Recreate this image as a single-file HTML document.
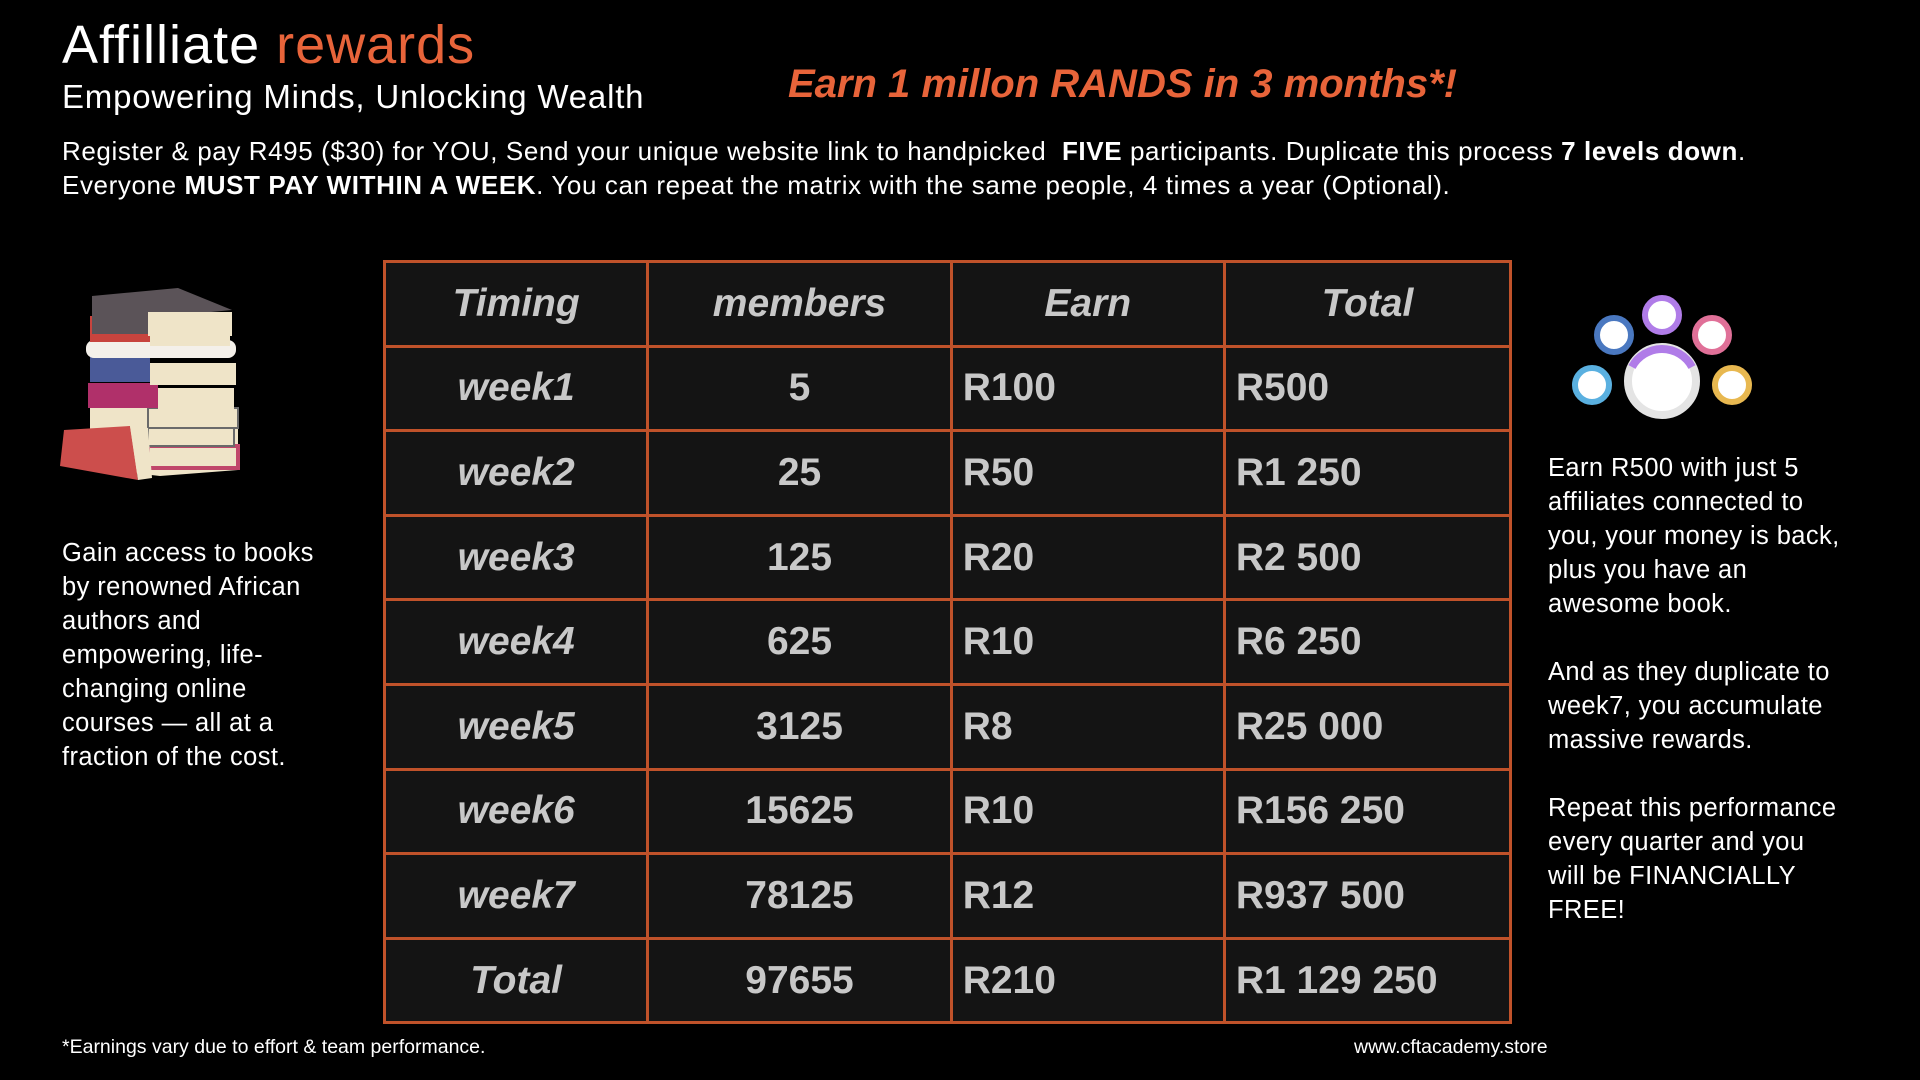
<!DOCTYPE html>
<html><head><meta charset="utf-8"><style>
body{margin:0;width:1920px;height:1080px;background:#000;overflow:hidden;position:relative;font-family:"Liberation Sans",sans-serif;color:#fff}
.a{position:absolute;white-space:nowrap}
table{position:absolute;left:383px;top:260px;border-collapse:collapse;width:1129px}
td{border:3.5px solid #c0522a;background:#141414;color:#c8c8c8;font-weight:bold;font-size:39px;height:81.6px;padding:0;text-align:center}
td.l{text-align:left;padding-left:10px}
td.i,tr.h td{font-style:italic}
.side{position:absolute;font-size:25.5px;line-height:34px;letter-spacing:0.4px}
</style></head><body>
<div class="a" style="left:62px;top:14px;font-size:54px;letter-spacing:1px">Affilliate <span style="color:#e8643a">rewards</span></div>
<div class="a" style="left:62px;top:78px;font-size:33px;letter-spacing:0.8px">Empowering Minds, Unlocking Wealth</div>
<div class="a" style="left:788px;top:62px;font-size:40px;font-weight:bold;font-style:italic;color:#e8643a">Earn 1 millon RANDS in 3 months*!</div>
<div class="a" style="left:62px;top:134px;font-size:26px;line-height:34px;letter-spacing:0.6px">Register &amp; pay R495 ($30) for YOU, Send your unique website link to handpicked&nbsp; <b>FIVE</b> participants. Duplicate this process <b>7 levels down</b>.<br>Everyone <b>MUST PAY WITHIN A WEEK</b>. You can repeat the matrix with the same people, 4 times a year (Optional).</div>
<table>
<colgroup><col style="width:264px"><col style="width:304px"><col style="width:274px"><col style="width:287px"></colgroup>
<tr class="h"><td>Timing</td><td>members</td><td>Earn</td><td>Total</td></tr>
<tr><td class="i">week1</td><td>5</td><td class="l">R100</td><td class="l">R500</td></tr>
<tr><td class="i">week2</td><td>25</td><td class="l">R50</td><td class="l">R1 250</td></tr>
<tr><td class="i">week3</td><td>125</td><td class="l">R20</td><td class="l">R2 500</td></tr>
<tr><td class="i">week4</td><td>625</td><td class="l">R10</td><td class="l">R6 250</td></tr>
<tr><td class="i">week5</td><td>3125</td><td class="l">R8</td><td class="l">R25 000</td></tr>
<tr><td class="i">week6</td><td>15625</td><td class="l">R10</td><td class="l">R156 250</td></tr>
<tr><td class="i">week7</td><td>78125</td><td class="l">R12</td><td class="l">R937 500</td></tr>
<tr><td class="i">Total</td><td>97655</td><td class="l">R210</td><td class="l">R1 129 250</td></tr>
</table>
<svg class="a" style="left:60px;top:288px" width="182" height="195" viewBox="0 0 182 195">
<polygon points="30,120 100,118 178,125 178,182 100,188 30,180" fill="#efe4c8"/>
<rect x="88" y="158" width="90" height="22" fill="#efe4c8" stroke="#c0466a" stroke-width="4"/>
<rect x="88" y="140" width="86" height="18" fill="#efe4c8" stroke="#6a6a6a" stroke-width="2"/>
<rect x="88" y="120" width="90" height="20" fill="#efe4c8" stroke="#6a6a6a" stroke-width="2"/>
<rect x="28" y="95" width="70" height="25" fill="#b0306a"/><rect x="98" y="100" width="76" height="22" fill="#efe4c8"/>
<rect x="30" y="68" width="60" height="26" fill="#4a5a98"/><rect x="90" y="75" width="86" height="22" fill="#efe4c8"/>
<rect x="26" y="52" width="150" height="18" rx="8" fill="#f4f0ea"/>
<rect x="30" y="28" width="60" height="26" fill="#c8443e"/><rect x="90" y="40" width="80" height="18" fill="#efe4c8"/>
<polygon points="32,8 118,0 172,22 88,30" fill="#5b5358"/><rect x="32" y="8" width="56" height="38" fill="#5b5358"/><rect x="88" y="24" width="84" height="24" fill="#efe4c8"/>
<polygon points="4,142 70,138 78,192 0,178" fill="#cc4e4c"/>
<polygon points="70,138 88,140 92,190 78,192" fill="#efe4c8"/>
</svg>
<svg class="a" style="left:1566px;top:285px" width="192" height="142" viewBox="0 0 192 142">
<g fill="#fff" stroke-width="6">
<circle cx="96" cy="96" r="34" stroke="#e4e4e4" stroke-width="8"/>
<circle cx="96" cy="30" r="17" stroke="#b07ce8"/>
<circle cx="48" cy="50" r="17" stroke="#4a78c0"/>
<circle cx="146" cy="50" r="17" stroke="#e07098"/>
<circle cx="26" cy="100" r="17" stroke="#5ab0e0"/>
<circle cx="166" cy="100" r="17" stroke="#e8b850"/>
</g>
<path d="M66 82 A34 34 0 0 1 126 82" fill="none" stroke="#b07ce8" stroke-width="8"/>
</svg>
<div class="side" style="left:62px;top:536px">Gain access to books<br>by renowned African<br>authors and<br>empowering, life-<br>changing online<br>courses — all at a<br>fraction of the cost.</div>
<div class="side" style="left:1548px;top:451px">Earn R500 with just 5<br>affiliates connected to<br>you, your money is back,<br>plus you have an<br>awesome book.<br><br>And as they duplicate to<br>week7, you accumulate<br>massive rewards.<br><br>Repeat this performance<br>every quarter and you<br>will be FINANCIALLY<br>FREE!</div>
<div class="a" style="left:62px;top:1036px;font-size:19.5px">*Earnings vary due to effort &amp; team performance.</div>
<div class="a" style="left:1354px;top:1036px;font-size:19.5px">www.cftacademy.store</div>
</body></html>
